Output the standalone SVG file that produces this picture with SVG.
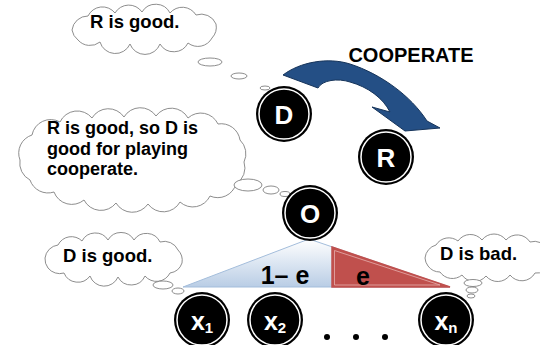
<svg xmlns="http://www.w3.org/2000/svg" width="540" height="345" viewBox="0 0 540 345">
<defs>
<linearGradient id="blueGrad" x1="0" y1="0" x2="0" y2="1">
<stop offset="0" stop-color="#ffffff"/>
<stop offset="1" stop-color="#b9cde5"/>
</linearGradient>
<style>
.cloud{fill:#ffffff;stroke:#808080;stroke-width:0.9}
.bub{fill:#ffffff;stroke:#808080;stroke-width:0.9}
.ctext{font-family:"Liberation Sans",Arial,sans-serif;font-weight:bold;font-size:18.5px;fill:#000000}
.ctext2{font-family:"Liberation Sans",Arial,sans-serif;font-weight:bold;font-size:18px;fill:#000000}
.node-outer{fill:#000000}
.node-ring{fill:none;stroke:#ffffff;stroke-width:1.5}
.nlabel{font-family:"Liberation Sans",Arial,sans-serif;font-weight:bold;font-size:26px;fill:#ffffff;text-anchor:middle}
.xlabel{font-family:"Liberation Sans",Arial,sans-serif;font-weight:bold;font-size:25px;fill:#ffffff;text-anchor:middle}
.sub{font-size:15px}
.big{font-family:"Liberation Sans",Arial,sans-serif;font-weight:bold;fill:#000000}
</style>
</defs>
<rect width="540" height="345" fill="#ffffff"/>

<!-- clouds -->
<g id="cloud-r-good">
<path class="cloud" d="M72,30 A16,16 0 0 1 88,16 A16,16 0 0 1 115,13 A16,16 0 0 1 142,12 A16,16 0 0 1 170,13 A16,16 0 0 1 196,15 A16,16 0 0 1 216,24 A16,16 0 0 1 212,38 A16,16 0 0 1 188,43 A16,16 0 0 1 160,44 A16,16 0 0 1 130,44 A16,16 0 0 1 100,42 A16,16 0 0 1 78,40 A16,16 0 0 1 72,30 Z"/>
<ellipse class="bub" cx="210" cy="62" rx="12" ry="4"/>
<ellipse class="bub" cx="239" cy="76" rx="8" ry="3"/>
<ellipse class="bub" cx="265" cy="88" rx="5" ry="2"/>
<text class="ctext" x="90" y="28">R is good.</text>
</g>

<g id="cloud-coop">
<path class="cloud" d="M20,160 A19,19 0 0 1 32,135 A19,19 0 0 1 60,122 A19,19 0 0 1 92,118 A19,19 0 0 1 124,117 A19,19 0 0 1 156,116 A19,19 0 0 1 188,118 A19,19 0 0 1 218,124 A19,19 0 0 1 240,140 A19,19 0 0 1 244,162 A19,19 0 0 1 236,184 A19,19 0 0 1 210,196 A19,19 0 0 1 180,202 A19,19 0 0 1 148,204 A19,19 0 0 1 116,203 A19,19 0 0 1 84,200 A19,19 0 0 1 54,192 A19,19 0 0 1 30,180 A19,19 0 0 1 20,160 Z"/>
<ellipse class="bub" cx="248" cy="185" rx="14" ry="6"/>
<ellipse class="bub" cx="271" cy="190" rx="8" ry="4"/>
<ellipse class="bub" cx="285" cy="194" rx="5" ry="2.5"/>
<text class="ctext2" x="47" y="134">R is good, so D is</text>
<text class="ctext2" x="47" y="154.5">good for playing</text>
<text class="ctext2" x="47" y="175">cooperate.</text>
</g>

<g id="cloud-d-good">
<path class="cloud" d="M45,258 A15,15 0 0 1 58,245 A15,15 0 0 1 82,241 A15,15 0 0 1 108,240 A15,15 0 0 1 134,240 A15,15 0 0 1 160,242 A15,15 0 0 1 178,250 A15,15 0 0 1 182,263 A15,15 0 0 1 170,273 A15,15 0 0 1 145,276 A15,15 0 0 1 118,277 A15,15 0 0 1 90,276 A15,15 0 0 1 64,273 A15,15 0 0 1 48,268 A15,15 0 0 1 45,258 Z"/>
<ellipse class="bub" cx="163" cy="285" rx="10" ry="4"/>
<ellipse class="bub" cx="178" cy="291" rx="6" ry="3"/>
<text class="ctext" x="63" y="262">D is good.</text>
</g>

<g id="cloud-d-bad">
<path class="cloud" d="M425,258 A15,15 0 0 1 436,245 A15,15 0 0 1 458,241 A15,15 0 0 1 482,240 A15,15 0 0 1 506,240 A15,15 0 0 1 530,242 A15,15 0 0 1 548,250 A15,15 0 0 1 550,265 A15,15 0 0 1 535,273 A15,15 0 0 1 510,275 A15,15 0 0 1 486,276 A15,15 0 0 1 462,275 A15,15 0 0 1 440,272 A15,15 0 0 1 428,266 A15,15 0 0 1 425,258 Z"/>
<ellipse class="bub" cx="473" cy="283" rx="9" ry="3.5"/>
<ellipse class="bub" cx="472" cy="290" rx="6" ry="3"/>
<ellipse class="bub" cx="471" cy="296" rx="4" ry="2"/>
<text class="ctext" x="440" y="260">D is bad.</text>
</g>

<!-- triangle (probability split) -->
<g id="split">
<polygon points="309,239 183,287 450,287" fill="url(#blueGrad)" stroke="#a3bddb" stroke-width="1"/>
<polygon points="332,247 450,287 332,287" fill="#c0504d" stroke="#c0504d" stroke-width="1.5"/>
<polygon points="334.5,250.5 440,285 334.5,285" fill="none" stroke="#e6b0ae" stroke-width="0.8"/>
<text class="big" x="285" y="284" font-size="25" text-anchor="middle">1– e</text>
<text class="big" x="363" y="285" font-size="25" text-anchor="middle">e</text>
</g>

<!-- connectors -->
<g id="connectors">
<path d="M283,75 C300,62 328,57 350,64 C381,74 411,96 427,121 L440,128 L405,131 L372,107 L390,112 C383,98 368,87 350,82 C338,78 322,80 318,88 Z" fill="#244f85" stroke="#16345a" stroke-width="1"/>
<text class="big" x="411" y="62" font-size="20" text-anchor="middle">COOPERATE</text>
</g>

<!-- nodes -->
<g id="node-D">
<circle class="node-outer" cx="284" cy="114" r="28"/>
<circle class="node-ring" cx="284" cy="114" r="25"/>
<text class="nlabel" x="284" y="124">D</text>
</g>
<g id="node-R">
<circle class="node-outer" cx="386" cy="157" r="28"/>
<circle class="node-ring" cx="386" cy="157" r="25"/>
<text class="nlabel" x="386" y="167">R</text>
</g>
<g id="node-O">
<circle class="node-outer" cx="310" cy="213" r="28"/>
<circle class="node-ring" cx="310" cy="213" r="25"/>
<text class="nlabel" x="310" y="223">O</text>
</g>
<g id="node-x1">
<circle class="node-outer" cx="202" cy="320" r="28"/>
<circle class="node-ring" cx="202" cy="320" r="25"/>
<text class="xlabel" x="202" y="330">x<tspan class="sub" dy="3">1</tspan></text>
</g>
<g id="node-x2">
<circle class="node-outer" cx="275" cy="320" r="28"/>
<circle class="node-ring" cx="275" cy="320" r="25"/>
<text class="xlabel" x="275" y="330">x<tspan class="sub" dy="3">2</tspan></text>
</g>
<g id="node-xn">
<circle class="node-outer" cx="446" cy="320" r="28"/>
<circle class="node-ring" cx="446" cy="320" r="25"/>
<text class="xlabel" x="446" y="330">x<tspan class="sub" dy="3">n</tspan></text>
</g>
<g id="ellipsis">
<circle cx="327" cy="337" r="3" fill="#000000"/>
<circle cx="356" cy="337" r="3" fill="#000000"/>
<circle cx="385" cy="337" r="3" fill="#000000"/>
</g>
</svg>
